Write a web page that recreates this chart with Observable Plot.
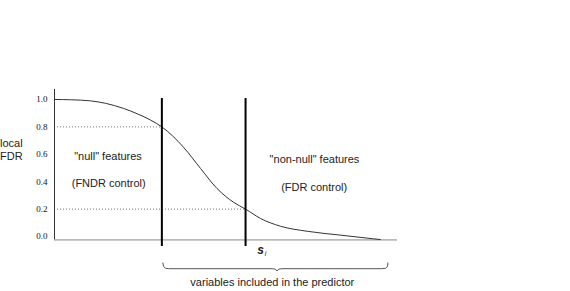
<!DOCTYPE html>
<html>
<head>
<meta charset="utf-8">
<script src="https://cdn.jsdelivr.net/npm/d3@7"></script>
<script src="https://cdn.jsdelivr.net/npm/@observablehq/plot@0.6"></script>
<style>
  html, body { margin: 0; padding: 0; background: #fff; }
  #chart { width: 570px; height: 291px; }
</style>
</head>
<body>
<div id="chart"></div>
<script>
// Local FDR curve (x in arbitrary ranked-feature units 0..100, y = local FDR)
const curveX = [0, 4.7, 10.5, 14.9, 20.1, 24.2, 28.0, 31.3, 37.6, 42.6, 47.4, 52.2, 55.7, 60.1, 65.9, 73.7, 83.4, 93.0, 95.0];
const curveY = [1.0, 0.998, 0.99, 0.972, 0.935, 0.895, 0.85, 0.8, 0.652, 0.496, 0.35, 0.25, 0.2, 0.131, 0.075, 0.038, 0.01, -0.017, -0.022];

// Thresholds (vertical lines) and their FDR levels
const thresholdX = [31.3, 55.7];
const thresholdY = [0.8, 0.2];

// Y ticks
const yTicks = [0, 0.2, 0.4, 0.6, 0.8, 1.0];

// Brace under the included variables
const braceX = [31.6, 31.8, 32.4, 33.3, 63.6, 64.4, 64.9, 65.4, 66.3, 95.4, 96.5, 97.1, 97.2];
const braceY = [-0.193, -0.219, -0.232, -0.235, -0.235, -0.238, -0.252, -0.238, -0.235, -0.235, -0.232, -0.219, -0.193];

// Text labels
const regionLabels = ['"null" features', '(FNDR control)', '"non-null" features', '(FDR control)'];
const regionX = [15.6, 15.8, 75.8, 75.7];
const regionY = [0.586, 0.385, 0.56, 0.355];
const yAxisLabel = "local\nFDR";
const braceLabel = "variables included in the predictor";

const curve = curveX.map((x, i) => ({x, y: curveY[i]}));
const brace = braceX.map((x, i) => ({x, y: braceY[i]}));
const regions = regionLabels.map((t, i) => ({t, x: regionX[i], y: regionY[i]}));
const dotted = thresholdX.map((x, i) => ({x, y: thresholdY[i]}));

const sans = "Liberation Sans, Arial, sans-serif";

const plot = Plot.plot({
  width: 570,
  height: 291,
  marginLeft: 54,
  marginRight: 173,
  marginTop: 99,
  marginBottom: 55,
  x: {domain: [0, 100], axis: null},
  y: {domain: [0, 1], axis: null},
  style: {fontFamily: sans, background: "white", overflow: "visible"},
  marks: [
    Plot.axisY({ticks: yTicks, tickSize: 0, tickPadding: 7, label: null,
      tickFormat: d3.format(".1f"), fontFamily: "Liberation Serif, serif", fontSize: 9, fill: "#111"}),
    // dotted guide lines
    Plot.ruleY(dotted, {y: "y", x1: 0, x2: "x", stroke: "#777", strokeWidth: 1, strokeDasharray: "1,2"}),
    // axes lines
    Plot.ruleX([0], {y1: -0.025, y2: 1.073, stroke: "#333", strokeWidth: 1}),
    Plot.ruleY([-0.025], {x1: 0, x2: 100, stroke: "#888", strokeWidth: 1}),
    // curve
    Plot.line(curve, {x: "x", y: "y", curve: "monotone-x", stroke: "#333", strokeWidth: 1}),
    // threshold verticals
    Plot.ruleX(thresholdX, {y1: -0.073, y2: 1.007, stroke: "#000", strokeWidth: 2}),
    // region labels
    Plot.text(regions, {x: "x", y: "y", text: "t", fontSize: 11, fill: "#222", fontFamily: sans}),
    // y label
    Plot.text([yAxisLabel], {x: -9.3, y: 0.637, textAnchor: "end", lineHeight: 1.23, fontSize: 11, fill: "#222", fontFamily: sans}),
    // s_i label
    Plot.text(["s"], {x: 60.1, y: -0.1, fontSize: 12, fontStyle: "italic", fontWeight: "bold", fill: "#222", fontFamily: sans}),
    Plot.text(["i"], {x: 61.5, y: -0.125, fontSize: 7, fontStyle: "italic", fill: "#222", fontFamily: sans}),
    // brace
    Plot.line(brace, {x: "x", y: "y", stroke: "#555", strokeWidth: 1}),
    Plot.text([braceLabel], {x: 63.5, y: -0.336, fontSize: 11, fill: "#222", fontFamily: sans})
  ]
});
document.getElementById("chart").appendChild(plot);
</script>
</body>
</html>
